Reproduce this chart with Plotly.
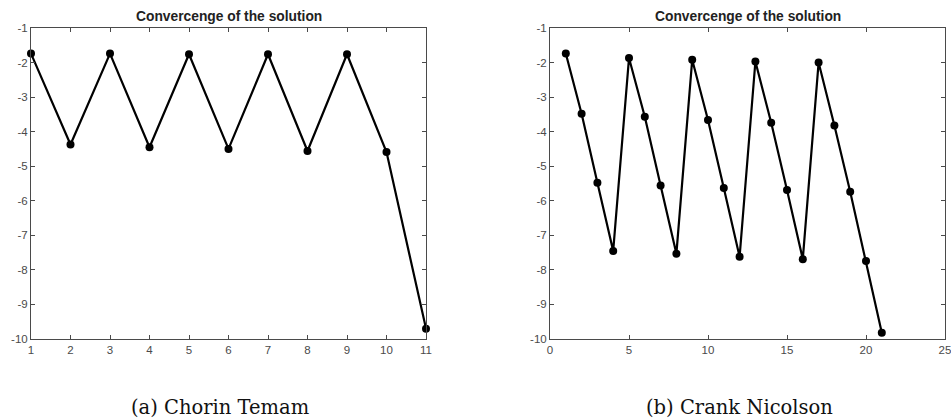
import plotly.graph_objects as go

# Data
x_ct = [1, 2, 3, 4, 5, 6, 7, 8, 9, 10, 11]
y_ct = [-1.74, -4.37, -1.74, -4.45, -1.76, -4.50, -1.76, -4.56, -1.76, -4.59, -9.70]

x_cn = list(range(1, 22))
y_cn = [-1.74, -3.48, -5.48, -7.45,
        -1.87, -3.57, -5.56, -7.53,
        -1.92, -3.66, -5.63, -7.62,
        -1.97, -3.74, -5.69, -7.69,
        -2.00, -3.82, -5.74, -7.74,
        -9.82]

titles = ["Convercenge of the solution", "Convercenge of the solution"]
captions = ["(a) Chorin Temam", "(b) Crank Nicolson"]
y_ticks = [-10, -9, -8, -7, -6, -5, -4, -3, -2, -1]
y_ticktext = ["-10", "-9", "-8", "-7", "-6", "-5", "-4", "-3", "-2", "-1"]
x_ticks_ct = list(range(1, 12))
x_ticks_cn = [0, 5, 10, 15, 20, 25]

W, H = 951, 419
ax_top, ax_bot = 28, 339
left_dom = [31 / W, 426 / W]
right_dom = [550 / W, 945 / W]
y_dom = [1 - ax_bot / H, 1 - ax_top / H]

fig = go.Figure()
line_style = dict(color="black", width=2.2)
marker_style = dict(color="black", size=8)

fig.add_trace(go.Scatter(x=x_ct, y=y_ct, mode="lines+markers", line=line_style,
                         marker=marker_style, cliponaxis=False, xaxis="x", yaxis="y",
                         showlegend=False))
fig.add_trace(go.Scatter(x=x_cn, y=y_cn, mode="lines+markers", line=line_style,
                         marker=marker_style, cliponaxis=False, xaxis="x2", yaxis="y2",
                         showlegend=False))

axis_common = dict(showgrid=False, zeroline=False, showline=True, linecolor="#4a4a4a",
                   linewidth=1, mirror="ticks", ticks="inside", ticklen=4,
                   tickcolor="#4a4a4a", tickwidth=1, automargin=False,
                   ticklabeloverflow="allow",
                   tickfont=dict(family="Liberation Sans, Arial", size=11.5, color="#4a4a4a"))

fig.update_layout(
    width=W, height=H,
    margin=dict(l=0, r=0, t=0, b=0, autoexpand=False),
    paper_bgcolor="white", plot_bgcolor="white",
    xaxis=dict(domain=left_dom, range=[1, 11], tickvals=x_ticks_ct, anchor="y", **axis_common),
    yaxis=dict(domain=y_dom, range=[-10, -1], tickvals=y_ticks, ticktext=y_ticktext,
               anchor="x", **axis_common),
    xaxis2=dict(domain=right_dom, range=[0, 25], tickvals=x_ticks_cn, anchor="y2", **axis_common),
    yaxis2=dict(domain=y_dom, range=[-10, -1], tickvals=y_ticks, ticktext=y_ticktext,
                anchor="x2", **axis_common),
)

for dom, t, c in [(left_dom, titles[0], captions[0]), (right_dom, titles[1], captions[1])]:
    cx = (dom[0] + dom[1]) / 2
    fig.add_annotation(x=cx, y=1 - 16 / H, xref="paper", yref="paper", text="<b>" + t + "</b>",
                       showarrow=False, xanchor="center", yanchor="middle",
                       font=dict(family="Liberation Sans, Arial", size=13.8, color="#222222"))
    fig.add_annotation(x=cx - 8.5 / W, y=1 - 407 / H, xref="paper", yref="paper", text=c,
                       showarrow=False, xanchor="center", yanchor="middle",
                       font=dict(family="DejaVu Serif, Liberation Serif, serif", size=19.5, color="#111111"))

fig.write_html("out.html", config={"displayModeBar": False},
               post_script="document.body.style.margin='0px';document.body.style.overflow='hidden';")
